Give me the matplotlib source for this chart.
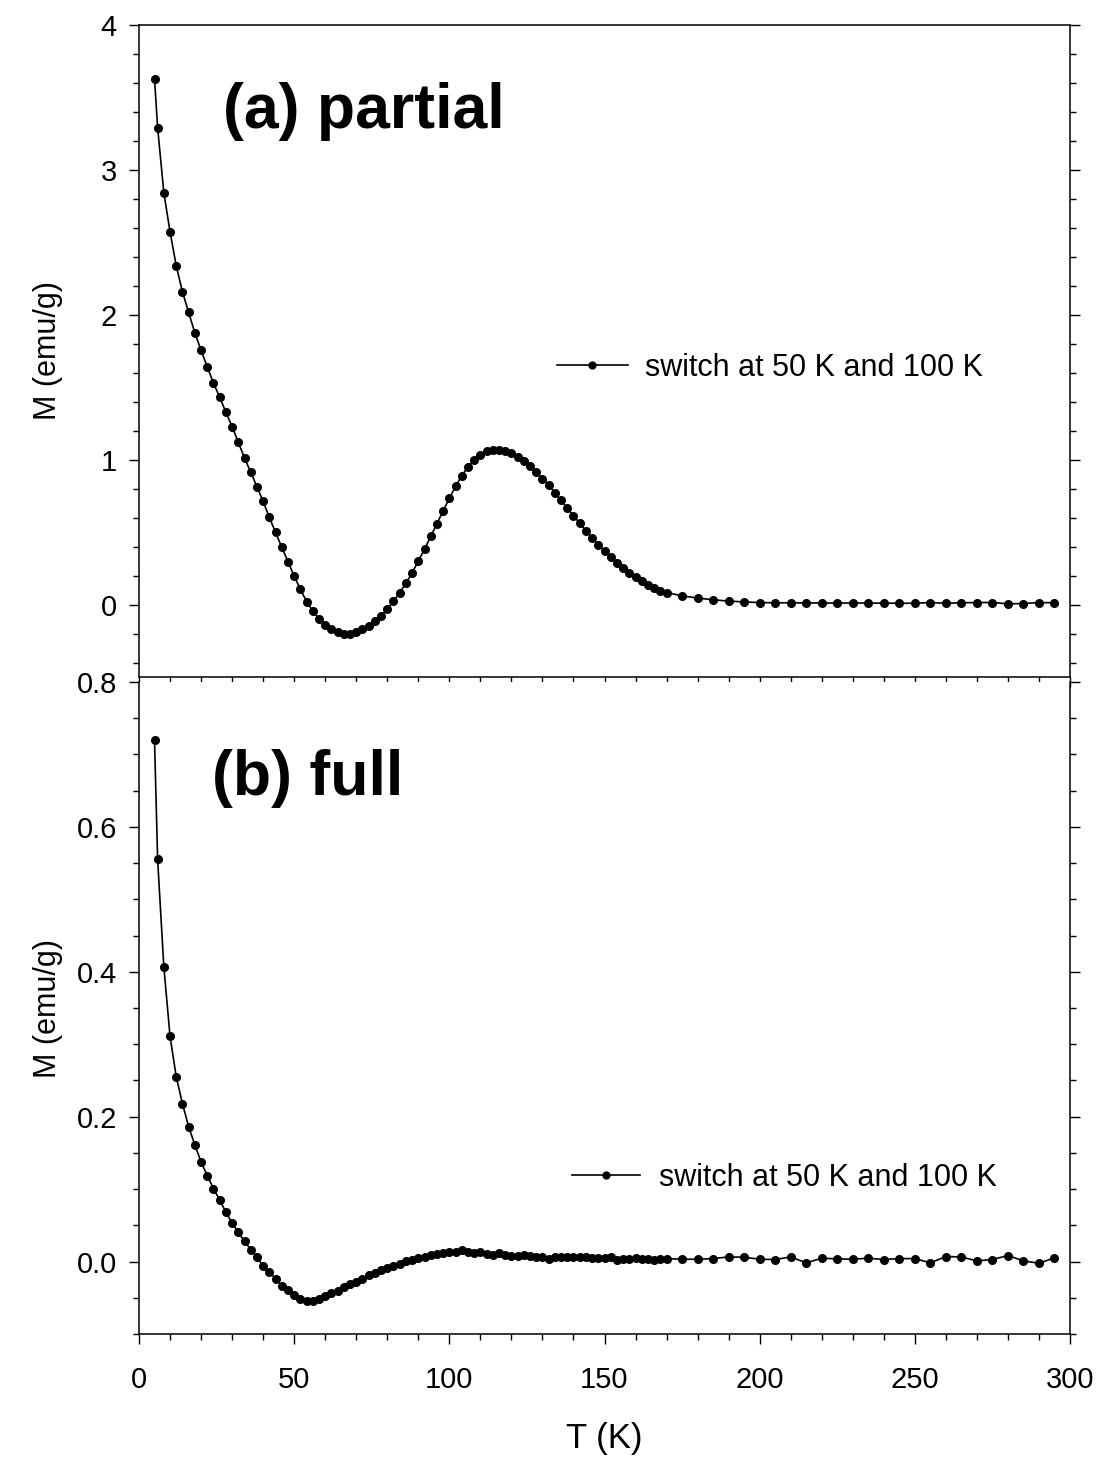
import matplotlib
matplotlib.use("Agg")
import matplotlib.pyplot as plt
from matplotlib.ticker import MultipleLocator, FormatStrFormatter

plt.rcParams['font.family'] = ['Liberation Sans', 'DejaVu Sans']

# ---------------- data ----------------
T_top = [5, 6, 8, 10, 12, 14, 16, 18, 20, 22, 24, 26, 28, 30, 32, 34, 36, 38, 40,
         42, 44, 46, 48, 50, 52, 54, 56, 58, 60, 62, 64, 66, 68, 70, 72, 74, 76, 78,
         80, 82, 84, 86, 88, 90, 92, 94, 96, 98, 100, 102, 104, 106, 108, 110, 112,
         114, 116, 118, 120, 122, 124, 126, 128, 130, 132, 134, 136, 138, 140, 142,
         144, 146, 148, 150, 152, 154, 156, 158, 160, 162, 164, 166, 168, 170,
         175, 180, 185, 190, 195, 200, 205, 210, 215, 220, 225, 230, 235, 240, 245,
         250, 255, 260, 265, 270, 275, 280, 285, 290, 295]
M_top = [3.630, 3.292, 2.843, 2.573, 2.338, 2.158, 2.016, 1.875, 1.755, 1.640,
         1.529, 1.431, 1.327, 1.228, 1.120, 1.011, 0.914, 0.813, 0.712, 0.601,
         0.498, 0.396, 0.297, 0.196, 0.106, 0.021, -0.044, -0.097, -0.140, -0.171,
         -0.191, -0.200, -0.203, -0.191, -0.168, -0.146, -0.113, -0.076, -0.032, 0.023,
         0.081, 0.147, 0.219, 0.300, 0.382, 0.470, 0.558, 0.647, 0.733, 0.815,
         0.889, 0.951, 0.997, 1.032, 1.057, 1.069, 1.069, 1.057, 1.044, 1.021,
         0.988, 0.954, 0.912, 0.869, 0.825, 0.772, 0.719, 0.666, 0.613, 0.562,
         0.509, 0.461, 0.413, 0.369, 0.327, 0.290, 0.251, 0.219, 0.189, 0.161,
         0.136, 0.113, 0.097, 0.083,
         0.060, 0.045, 0.033, 0.024, 0.018, 0.014, 0.012, 0.012, 0.011, 0.011,
         0.010, 0.011, 0.010, 0.010, 0.009, 0.009, 0.014, 0.009, 0.012, 0.014,
         0.014, 0.005, 0.007, 0.014, 0.012]

T_bot = T_top
M_bot = [0.720, 0.555, 0.407, 0.311, 0.255, 0.218, 0.186, 0.161, 0.1375, 0.1186,
         0.1007, 0.0851, 0.0680, 0.0533, 0.0405, 0.0280, 0.0166, 0.0064, -0.0064, -0.0147,
         -0.0234, -0.0336, -0.0395, -0.0455, -0.0515, -0.0543, -0.0543, -0.0510, -0.0478, -0.0432,
         -0.0409, -0.0354, -0.0313, -0.0285, -0.0234, -0.0189, -0.0156, -0.0120, -0.0087, -0.0064,
         -0.0037, 0.0005, 0.0023, 0.0046, 0.0069, 0.0092, 0.0106, 0.0115, 0.0129, 0.0133,
         0.0156, 0.0133, 0.0124, 0.0125, 0.0106, 0.0092, 0.0115, 0.0092, 0.0074, 0.0074,
         0.0092, 0.0074, 0.0060, 0.0060, 0.0041, 0.0064, 0.0060, 0.0060, 0.0060, 0.0060,
         0.0060, 0.0051, 0.0051, 0.0051, 0.0064, 0.0018, 0.0037, 0.0037, 0.0046, 0.0037,
         0.0037, 0.0028, 0.0032, 0.0041,
         0.0032, 0.0032, 0.0041, 0.0064, 0.0060, 0.0032, 0.0028, 0.0064, -0.0018, 0.0046,
         0.0037, 0.0032, 0.0046, 0.0028, 0.0041, 0.0041, -0.0018, 0.0069, 0.0064, 0.0009,
         0.0028, 0.0083, 0.0009, -0.0023, 0.0051]

series_label = "switch at 50 K and 100 K"
panel_titles = ["(a) partial", "(b) full"]
xlabel = "T (K)"
ylabel = "M (emu/g)"

# ---------------- figure ----------------
W, H = 1100, 1460
fig = plt.figure(figsize=(W / 100, H / 100), dpi=100)

def px_axes(l, t, r, b):
    return [l / W, 1 - b / H, (r - l) / W, (b - t) / H]

ax1 = fig.add_axes(px_axes(139, 25, 1070, 677))
ax2 = fig.add_axes(px_axes(139, 682, 1070, 1334))

FS = 21
lw = 1.2
ms = 5.5
for ax in (ax1, ax2):
    for s in ax.spines.values():
        s.set_linewidth(1.1)
    ax.set_xlim(0, 300)
    ax.xaxis.set_major_locator(MultipleLocator(50))
    ax.xaxis.set_minor_locator(MultipleLocator(10))
    ax.tick_params(which='both', direction='out', width=1.0,
                   left=True, right=True, top=False, bottom=True,
                   labelsize=FS)
    ax.tick_params(which='major', length=7)
    ax.tick_params(which='minor', length=4.3)
    ax.tick_params(axis='y', pad=9)
    ax.tick_params(axis='x', pad=16)

# top panel
ax1.plot(T_top, M_top, '-o', color='black', lw=lw, ms=ms, label=series_label)
ax1.set_ylim(-0.5, 4)
ax1.yaxis.set_major_locator(MultipleLocator(1))
ax1.yaxis.set_minor_locator(MultipleLocator(0.2))
ax1.tick_params(axis='x', labelbottom=False)
ax1.set_ylabel(ylabel, fontsize=22)
ax1.yaxis.set_label_coords(-0.082, 0.5)
ax1.text(0.090, 0.842, panel_titles[0], transform=ax1.transAxes,
         fontsize=45, fontweight='bold', ha='left', va='baseline')
ax1.legend(frameon=False, loc='center left', bbox_to_anchor=(0.449, 0.474),
           handlelength=2.32, handletextpad=0.55, borderpad=0, borderaxespad=0,
           fontsize=22, markerscale=0.9)

# bottom panel
ax2.plot(T_bot, M_bot, '-o', color='black', lw=lw, ms=ms, label=series_label)
ax2.set_ylim(-0.1, 0.8)
ax2.yaxis.set_major_locator(MultipleLocator(0.2))
ax2.yaxis.set_minor_locator(MultipleLocator(0.05))
ax2.yaxis.set_major_formatter(FormatStrFormatter('%.1f'))
ax2.spines['top'].set_visible(False)
ax2.set_ylabel(ylabel, fontsize=22)
ax2.yaxis.set_label_coords(-0.082, 0.5)
ax2.set_xlabel(xlabel, fontsize=25, labelpad=20)
ax2.text(0.078, 0.8267, panel_titles[1], transform=ax2.transAxes,
         fontsize=45, fontweight='bold', ha='left', va='baseline')
ax2.legend(frameon=False, loc='center left', bbox_to_anchor=(0.465, 0.239),
           handlelength=2.22, handletextpad=0.62, borderpad=0, borderaxespad=0,
           fontsize=22, markerscale=0.9)

fig.savefig("out.png", dpi=100)
